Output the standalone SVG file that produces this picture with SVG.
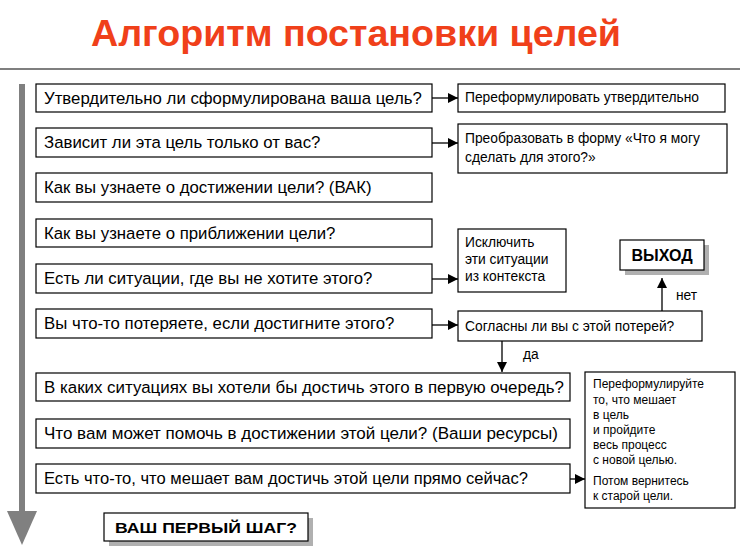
<svg xmlns="http://www.w3.org/2000/svg" width="740" height="555" viewBox="0 0 740 555">
<defs>
<style>
text{font-family:"Liberation Sans",Arial,sans-serif;fill:#000}
.b{fill:#fff;stroke:#000;stroke-width:1.2}
.q{font-size:16.8px}
.s{font-size:13.8px}
.n{font-size:12px}
.c{stroke:#000;stroke-width:1.3;fill:none}
</style>
<marker id="a" viewBox="0 0 10 10" refX="10" refY="5" markerWidth="10" markerHeight="10" markerUnits="userSpaceOnUse" orient="auto"><path d="M0,0L10,5L0,10z" fill="#000"/></marker>
</defs>
<rect width="740" height="555" fill="#fff"/>
<text x="356" y="46" text-anchor="middle" style="font-size:36px;font-weight:bold;fill:#F0401A" textLength="530" lengthAdjust="spacingAndGlyphs">Алгоритм постановки целей</text>
<line x1="0" y1="69" x2="740" y2="69" stroke="#000" stroke-width="1.2"/>
<g id="mainArrow"><rect x="19" y="84" width="6" height="428" fill="#808080"/><path d="M7,511L37,511L22,545z" fill="#808080"/></g>
<g id="q1"><rect class="b" x="36" y="84" width="396" height="28"/><text class="q" x="44" y="104">Утвердительно ли сформулирована ваша цель?</text></g>
<g id="q2"><rect class="b" x="36" y="128" width="396" height="29"/><text class="q" x="44" y="148">Зависит ли эта цель только от вас?</text></g>
<g id="q3"><rect class="b" x="36" y="173" width="396" height="29"/><text class="q" x="44" y="193">Как вы узнаете о достижении цели? (ВАК)</text></g>
<g id="q4"><rect class="b" x="36" y="219" width="396" height="28"/><text class="q" x="44" y="239">Как вы узнаете о приближении цели?</text></g>
<g id="q5"><rect class="b" x="36" y="264" width="396" height="29"/><text class="q" x="44" y="284">Есть ли ситуации, где вы не хотите этого?</text></g>
<g id="q6"><rect class="b" x="36" y="309" width="396" height="29"/><text class="q" x="44" y="329">Вы что-то потеряете, если достигните этого?</text></g>
<g id="q7"><rect class="b" x="36" y="373" width="534" height="28"/><text class="q" x="44" y="393" textLength="520" lengthAdjust="spacingAndGlyphs">В каких ситуациях вы хотели бы достичь этого в первую очередь?</text></g>
<g id="q8"><rect class="b" x="36" y="419" width="534" height="29"/><text class="q" x="44" y="439" textLength="514" lengthAdjust="spacingAndGlyphs">Что вам может помочь в достижении этой цели? (Ваши ресурсы)</text></g>
<g id="q9"><rect class="b" x="36" y="464" width="534" height="29"/><text class="q" x="44" y="484" textLength="484" lengthAdjust="spacingAndGlyphs">Есть что-то, что мешает вам достичь этой цели прямо сейчас?</text></g>
<g id="first"><rect x="109" y="518" width="204" height="28" fill="#b0b0b0"/><rect class="b" x="104" y="513" width="204" height="28"/><text x="206" y="533" text-anchor="middle" style="font-size:15px;font-weight:bold" textLength="182" lengthAdjust="spacingAndGlyphs">ВАШ  ПЕРВЫЙ  ШАГ?</text></g>
<g id="r1"><rect class="b" x="458" y="84" width="267" height="28"/><text class="s" x="465" y="102">Переформулировать утвердительно</text></g>
<g id="r2"><rect class="b" x="458" y="124" width="269" height="49"/><text class="s" x="465" y="143">Преобразовать в форму «Что я могу</text><text class="s" x="465" y="162">сделать для этого?»</text></g>
<g id="r3"><rect class="b" x="458" y="229" width="108" height="63"/><text class="s" x="465" y="247">Исключить</text><text class="s" x="465" y="264">эти ситуации</text><text class="s" x="465" y="281">из контекста</text></g>
<g id="exit"><rect x="625" y="245" width="84" height="30" fill="#b0b0b0"/><rect class="b" x="620" y="240" width="84" height="30"/><text x="662" y="261" text-anchor="middle" style="font-size:16px;font-weight:bold">ВЫХОД</text></g>
<g id="agree"><rect class="b" x="458" y="311" width="244" height="30"/><text class="s" x="465" y="331">Согласны ли вы с этой потерей?</text></g>
<g id="r5"><rect class="b" x="585" y="372" width="150" height="136"/>
<text class="n" x="593" y="388">Переформулируйте</text><text class="n" x="593" y="404">то, что мешает</text><text class="n" x="593" y="419">в цель</text><text class="n" x="593" y="434">и пройдите</text><text class="n" x="593" y="449">весь процесс</text><text class="n" x="593" y="464">с новой целью.</text><text class="n" x="593" y="485">Потом вернитесь</text><text class="n" x="593" y="500">к старой цели.</text></g>
<g id="connectors">
<line class="c" x1="432" y1="98" x2="458" y2="98" marker-end="url(#a)"/>
<line class="c" x1="432" y1="143" x2="458" y2="143" marker-end="url(#a)"/>
<line class="c" x1="432" y1="279" x2="458" y2="279" marker-end="url(#a)"/>
<line class="c" x1="432" y1="325" x2="458" y2="325" marker-end="url(#a)"/>
<line class="c" x1="570" y1="479" x2="585" y2="479" marker-end="url(#a)"/>
<line class="c" x1="502" y1="341" x2="502" y2="372" marker-end="url(#a)"/>
<line class="c" x1="662" y1="311" x2="662" y2="278" marker-end="url(#a)"/>
<text class="s" x="523" y="359">да</text>
<text class="s" x="676" y="300">нет</text>
</g>
</svg>
